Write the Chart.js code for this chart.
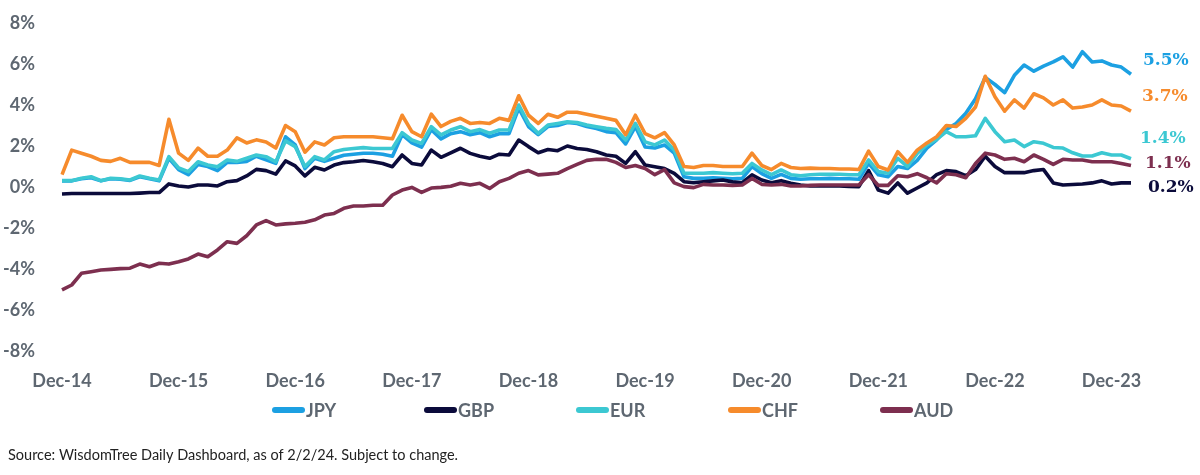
<!DOCTYPE html>
<html>
<head>
<meta charset="utf-8">
<script src="https://cdn.jsdelivr.net/npm/chart.js@4.4.1/dist/chart.umd.min.js"></script>
<style>
  html, body { margin: 0; padding: 0; background: #fff; }
  #wrap { width: 1200px; height: 475px; position: relative; }
</style>
</head>
<body>
<div id="wrap"><canvas id="myChart"></canvas></div>
<script>
// monthly points, Dec-14 .. Feb-24
const monthNames = ['Jan','Feb','Mar','Apr','May','Jun','Jul','Aug','Sep','Oct','Nov','Dec'];
const months = [];
for (let i = 0; i < 111; i++) {
    const m = (11 + i) % 12;
    const y = 14 + Math.floor((11 + i) / 12);
    months.push(monthNames[m] + '-' + y);
}
const tickLabels = ['Dec-14','Dec-15','Dec-16','Dec-17','Dec-18','Dec-19','Dec-20','Dec-21','Dec-22','Dec-23'];
const yTicks = [-8, -6, -4, -2, 0, 2, 4, 6, 8];
const sourceNote = 'Source: WisdomTree Daily Dashboard, as of 2/2/24. Subject to change.';

const jpy = [0.3,0.3,0.4,0.45,0.3,0.4,0.38,0.32,0.5,0.4,0.3,1.4,0.85,0.6,1.1,1.0,0.8,1.2,1.2,1.25,
    1.5,1.32,1.15,2.45,2.05,0.9,1.4,1.25,1.4,1.55,1.6,1.65,1.65,1.6,1.5,2.55,2.15,1.95,2.8,2.35,
    2.6,2.7,2.55,2.65,2.45,2.6,2.6,3.85,2.95,2.55,2.95,3.0,3.15,3.1,2.95,2.85,2.7,2.65,2.1,2.95,
    1.95,1.9,2.05,1.65,0.5,0.42,0.42,0.45,0.42,0.4,0.42,1.0,0.65,0.42,0.62,0.42,0.38,0.4,0.4,0.42,
    0.4,0.4,0.38,1.15,0.6,0.5,1.0,0.9,1.3,1.9,2.3,2.8,3.1,3.6,4.3,5.35,5.0,4.6,5.45,5.95,
    5.65,5.9,6.1,6.35,5.85,6.6,6.1,6.15,5.95,5.85,5.5];
const gbp = [-0.34,-0.32,-0.32,-0.32,-0.32,-0.32,-0.32,-0.32,-0.3,-0.27,-0.27,0.15,0.05,0.0,0.1,0.1,0.05,0.26,0.31,0.54,
    0.86,0.8,0.63,1.27,1.03,0.54,0.96,0.83,1.07,1.19,1.23,1.29,1.23,1.15,0.99,1.56,1.15,1.07,1.8,1.45,
    1.67,1.89,1.64,1.5,1.4,1.6,1.56,2.29,1.97,1.67,1.83,1.77,2.0,1.88,1.83,1.72,1.56,1.5,1.15,1.72,
    1.07,0.99,0.9,0.67,0.26,0.21,0.26,0.3,0.34,0.25,0.21,0.59,0.34,0.21,0.31,0.18,0.1,0.05,0.05,0.05,
    0.05,0.03,0.02,0.8,-0.15,-0.3,0.2,-0.3,-0.05,0.2,0.6,0.8,0.75,0.55,0.85,1.5,1.0,0.7,0.7,0.7,
    0.8,0.85,0.2,0.1,0.12,0.15,0.2,0.3,0.15,0.2,0.2];
const eur = [0.31,0.31,0.43,0.5,0.31,0.43,0.4,0.34,0.54,0.43,0.34,1.48,0.93,0.75,1.23,1.07,0.99,1.32,1.25,1.4,
    1.56,1.48,1.23,2.25,1.97,1.0,1.48,1.32,1.72,1.83,1.88,1.92,1.88,1.88,1.88,2.65,2.29,2.13,2.94,2.54,
    2.78,2.94,2.7,2.8,2.62,2.78,2.78,4.0,3.1,2.62,3.02,3.1,3.18,3.15,3.02,2.94,2.86,2.8,2.29,3.1,
    2.2,2.05,2.29,1.8,0.67,0.67,0.67,0.7,0.67,0.65,0.67,1.15,0.83,0.6,0.83,0.6,0.55,0.6,0.62,0.62,
    0.62,0.6,0.6,1.32,0.75,0.67,1.4,1.0,1.64,2.05,2.32,2.7,2.45,2.45,2.5,3.35,2.7,2.21,2.29,1.97,
    2.21,2.13,1.93,1.9,1.67,1.51,1.51,1.67,1.56,1.56,1.38];
const chf = [0.6,1.8,1.65,1.5,1.3,1.25,1.4,1.2,1.2,1.2,1.05,3.3,1.65,1.3,1.9,1.5,1.5,1.8,2.4,2.15,
    2.3,2.2,1.9,3.0,2.7,1.7,2.2,2.05,2.4,2.45,2.45,2.45,2.45,2.4,2.35,3.5,2.7,2.45,3.55,2.95,
    3.2,3.35,3.1,3.15,3.1,3.35,3.25,4.45,3.5,3.1,3.55,3.4,3.65,3.65,3.55,3.45,3.35,3.25,2.55,3.5,
    2.6,2.4,2.65,2.05,1.0,0.95,1.05,1.05,1.0,1.0,1.0,1.65,1.05,0.85,1.15,0.95,0.9,0.92,0.9,0.9,
    0.88,0.88,0.85,1.75,1.0,0.83,1.72,1.2,1.8,2.15,2.45,3.0,2.95,3.35,3.9,5.4,4.4,3.7,4.25,3.85,
    4.55,4.35,4.0,4.25,3.85,3.9,4.0,4.25,4.0,3.95,3.7];
const aud = [-5.02,-4.78,-4.21,-4.13,-4.05,-4.02,-3.98,-3.96,-3.76,-3.89,-3.72,-3.76,-3.65,-3.51,-3.27,-3.4,-3.07,-2.67,-2.75,-2.38,
    -1.85,-1.64,-1.85,-1.8,-1.77,-1.72,-1.6,-1.37,-1.29,-1.04,-0.93,-0.93,-0.89,-0.89,-0.39,-0.15,-0.02,-0.26,-0.05,-0.02,
    0.04,0.18,0.1,0.18,-0.07,0.26,0.42,0.67,0.8,0.59,0.63,0.67,0.9,1.1,1.3,1.35,1.35,1.2,0.95,1.05,
    0.9,0.6,0.85,0.2,0.02,-0.03,0.13,0.1,0.1,0.08,0.1,0.42,0.13,0.1,0.13,0.05,0.05,0.08,0.1,0.1,
    0.1,0.1,0.1,0.6,0.08,0.08,0.55,0.5,0.65,0.45,0.2,0.65,0.6,0.45,1.15,1.65,1.56,1.35,1.4,1.23,
    1.56,1.35,1.1,1.35,1.32,1.32,1.23,1.23,1.23,1.15,1.05];

const gray = '#5E6771';

// value labels at the right end of each line
const endLabels = {
    id: 'endLabels',
    afterDatasetsDraw(chart) {
        const ctx = chart.ctx;
        chart.data.datasets.forEach((ds, i) => {
            const meta = chart.getDatasetMeta(i);
            const pt = meta.data[meta.data.length - 1];
            const v = ds.data[ds.data.length - 1];
            ctx.save();
            ctx.font = 'bold 17px "DejaVu Serif"';
            ctx.fillStyle = ds.borderColor;
            ctx.textBaseline = 'middle';
            ctx.fillText(v.toFixed(1) + '%', pt.x + ds.labelDx, pt.y + ds.labelDy);
            ctx.restore();
        });
    }
};

// legend row with line markers, evenly spaced, plus source line
const lineLegend = {
    id: 'lineLegend',
    afterDraw(chart) {
        const ctx = chart.ctx;
        const y = 410;
        const pitch = 152;
        const x0 = chart.width / 2 - 328;
        chart.data.datasets.forEach((ds, i) => {
            const x = x0 + i * pitch;
            ctx.save();
            ctx.strokeStyle = ds.borderColor;
            ctx.lineWidth = 6;
            ctx.lineCap = 'round';
            ctx.beginPath();
            ctx.moveTo(x + 3, y);
            ctx.lineTo(x + 30, y);
            ctx.stroke();
            ctx.font = 'bold 18px Lato';
            ctx.fillStyle = gray;
            ctx.textBaseline = 'middle';
            ctx.fillText(ds.label, x + 34, y + 1);
            ctx.restore();
        });
        ctx.save();
        ctx.font = '14.5px Lato';
        ctx.fillStyle = '#222222';
        ctx.textBaseline = 'middle';
        ctx.fillText(sourceNote, 8, 455);
        ctx.restore();
    }
};

const ctx = document.getElementById('myChart').getContext('2d');

new Chart(ctx, {
    type: 'line',
    data: {
        labels: months,
        datasets: [
            { label: 'JPY', data: jpy, borderColor: '#1CA0E2', order: 5, labelDx: 12, labelDy: -14 },
            { label: 'GBP', data: gbp, borderColor: '#0B0B3B', order: 4, labelDx: 17, labelDy: 5 },
            { label: 'EUR', data: eur, borderColor: '#3CC8D2', order: 3, labelDx: 9, labelDy: -20 },
            { label: 'CHF', data: chf, borderColor: '#F68B2C', order: 2, labelDx: 11, labelDy: -15 },
            { label: 'AUD', data: aud, borderColor: '#7D2F4F', order: 1, labelDx: 14, labelDy: -2 }
        ]
    },
    options: {
        responsive: true,
        maintainAspectRatio: false,
        animation: false,
        layout: { padding: { top: 23, right: 69, bottom: 0, left: 0 } },
        elements: {
            line: { borderWidth: 3.6, tension: 0, borderJoinStyle: 'round' },
            point: { radius: 0 }
        },
        scales: {
            x: {
                grid: { display: false, drawTicks: false },
                border: { display: false },
                ticks: {
                    autoSkip: false,
                    maxRotation: 0,
                    padding: 19,
                    color: gray,
                    font: { family: 'Lato', size: 18, weight: 'bold' },
                    callback: function (value) {
                        const lab = this.getLabelForValue(value);
                        return tickLabels.includes(lab) ? lab : null;
                    }
                },
                afterFit: (scale) => { scale.height = 124; }
            },
            y: {
                min: yTicks[0],
                max: yTicks[yTicks.length - 1],
                grid: { display: false, drawTicks: false },
                border: { display: false },
                afterBuildTicks: (scale) => { scale.ticks = yTicks.map(v => ({ value: v })); },
                ticks: {
                    padding: 27,
                    color: gray,
                    font: { family: 'Lato', size: 18, weight: 'bold' },
                    callback: (v) => v + '%'
                },
                afterFit: (scale) => {
                    scale.width = 62;
                    scale.paddingTop = 0;
                    scale.paddingBottom = 0;
                }
            }
        },
        plugins: {
            legend: { display: false },
            tooltip: { enabled: false }
        }
    },
    plugins: [endLabels, lineLegend]
});
</script>
</body>
</html>
